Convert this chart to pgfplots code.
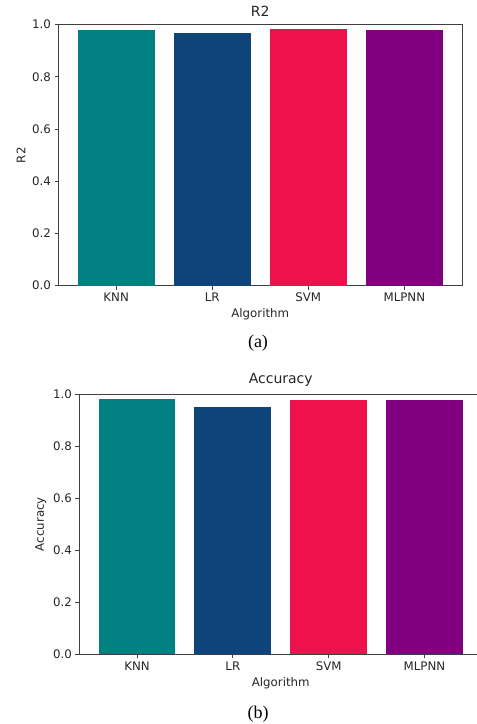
\documentclass[border=0pt]{standalone}
\usepackage{fontspec}
\setmainfont{DejaVu Sans}
\newfontfamily\capfont{Liberation Serif}
\usepackage{pgfplots}
\pgfplotsset{compat=1.18}
\definecolor{cKNN}{RGB}{0,128,128}
\definecolor{cLR}{RGB}{14,68,122}
\definecolor{cSVM}{RGB}{239,17,76}
\definecolor{cMLP}{RGB}{128,0,128}
\definecolor{txt}{RGB}{38,38,38}
\pgfplotsset{mybar/.style={
  scale only axis, anchor=south west,
  ymin=0, ymax=1, xmin=-0.6, xmax=3.6,
  xtick={0,1,2,3}, xticklabels={KNN,LR,SVM,MLPNN},
  ytick={0,0.2,0.4,0.6,0.8,1.0},
  yticklabel style={/pgf/number format/.cd, fixed, fixed zerofill, precision=1},
  /pgf/number format/assume math mode=true,
  tick align=outside, tick pos=left, major tick length=4pt,
  axis line style={black!75, line width=0.8pt},
  tick style={black!75, line width=0.8pt},
  ticklabel style={font=\fontsize{11.8}{13}\selectfont, text=txt},
  label style={font=\fontsize{11.8}{13}\selectfont, text=txt},
  title style={font=\fontsize{14}{16}\selectfont, text=txt, at={(0.5,1)}, anchor=south, yshift=-1.5pt},
  xlabel={Algorithm},
  every axis plot/.append style={ybar, bar width=0.8, bar shift=0pt, draw=none},
}}
\begin{document}
\begin{tikzpicture}
\begin{axis}[mybar, at={(58.5pt,438.3pt)}, width=403.5pt, height=261pt,
  title={R2}, ylabel={R2}]
\addplot[fill=cKNN] coordinates {(0,0.978)};
\addplot[fill=cLR] coordinates {(1,0.969)};
\addplot[fill=cSVM] coordinates {(2,0.982)};
\addplot[fill=cMLP] coordinates {(3,0.978)};
\end{axis}
\begin{axis}[mybar, at={(79.5pt,70pt)}, width=402.5pt, height=259.7pt,
  title={Accuracy}, ylabel={Accuracy}]
\addplot[fill=cKNN] coordinates {(0,0.982)};
\addplot[fill=cLR] coordinates {(1,0.950)};
\addplot[fill=cSVM] coordinates {(2,0.978)};
\addplot[fill=cMLP] coordinates {(3,0.978)};
\end{axis}
\node[font=\capfont\fontsize{18}{20}\selectfont] at (258pt,381pt) {(a)};
\node[font=\capfont\fontsize{18}{20}\selectfont] at (258pt,10pt) {(b)};
\pgfresetboundingbox
\useasboundingbox (0pt,0pt) rectangle (477pt,724pt);
\end{tikzpicture}
\end{document}
